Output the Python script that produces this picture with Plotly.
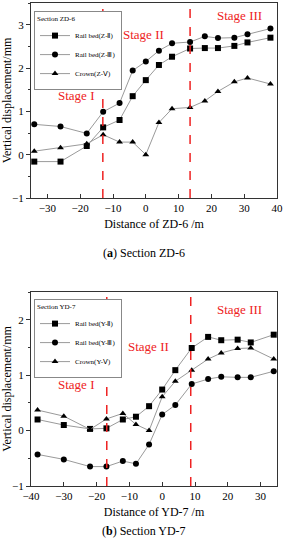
import plotly.graph_objects as go

# ---- Section ZD-6 ----
zd_x = [-34, -26, -18, -13, -8, -4, 0, 4, 8, 13.5, 18, 22, 27, 31, 38]
zd_rail2 = [-0.16, -0.16, 0.2, 0.63, 0.80, 1.35, 1.72, 2.07, 2.26, 2.45, 2.46, 2.46, 2.51, 2.59, 2.70]
zd_rail3 = [0.70, 0.65, 0.49, 0.99, 1.19, 1.94, 2.15, 2.40, 2.57, 2.60, 2.73, 2.69, 2.70, 2.78, 2.91]
zd_crown = [0.08, 0.16, 0.25, 0.46, 0.29, 0.29, 0.0, 0.74, 1.06, 1.09, 1.24, 1.46, 1.68, 1.77, 1.63]
zd_stage_lines = [-13.1, 13.5]

# ---- Section YD-7 ----
yd_x = [-38, -30, -22, -17, -12, -8, -4, 0, 4, 9, 14, 18, 23, 27, 34]
yd_rail2 = [0.20, 0.10, 0.03, 0.04, 0.20, 0.25, 0.44, 0.74, 1.09, 1.49, 1.69, 1.63, 1.64, 1.59, 1.73]
yd_rail3 = [-0.43, -0.52, -0.65, -0.65, -0.55, -0.60, -0.25, 0.29, 0.46, 0.84, 0.93, 0.97, 0.96, 0.96, 1.07]
yd_crown = [0.37, 0.26, 0.02, 0.21, 0.31, 0.11, 0.0, 0.61, 0.89, 1.09, 1.29, 1.40, 1.48, 1.49, 1.29]
yd_stage_lines = [-16.9, 8.7]

stage_names = ["Stage I", "Stage II", "Stage III"]
zd_stage_pos = [(-21.2, 1.36), (-0.8, 2.77), (28.7, 3.22)]
yd_stage_pos = [(-26.4, 0.83), (-4.2, 1.52), (23.5, 2.19)]

zd_names = ["Rail bed(Z-Ⅱ)", "Rail bed(Z-Ⅲ)", "Crown(Z-Ⅴ)"]
yd_names = ["Rail bed(Y-Ⅱ)", "Rail bed(Y-Ⅲ)", "Crown(Y-Ⅴ)"]
symbols = ["square", "circle", "triangle-up"]

FONT = "Liberation Serif, Times New Roman, serif"
LINEC = "#9a9a9a"
RED = "#ee2222"

fig = go.Figure()

for name, ys, sym in zip(zd_names, [zd_rail2, zd_rail3, zd_crown], symbols):
    fig.add_trace(go.Scatter(x=zd_x, y=ys, mode="lines+markers", name=name,
                             line=dict(color=LINEC, width=1),
                             marker=dict(symbol=sym, color="black", size=6),
                             xaxis="x", yaxis="y", legend="legend"))
for name, ys, sym in zip(yd_names, [yd_rail2, yd_rail3, yd_crown], symbols):
    fig.add_trace(go.Scatter(x=yd_x, y=ys, mode="lines+markers", name=name,
                             line=dict(color=LINEC, width=1),
                             marker=dict(symbol=sym, color="black", size=6),
                             xaxis="x2", yaxis="y2", legend="legend2"))

shapes = []
for xv in zd_stage_lines:
    shapes.append(dict(type="line", xref="x", yref="y domain", x0=xv, x1=xv, y0=0, y1=1,
                       line=dict(color=RED, width=1.5, dash="dash")))
for xv in yd_stage_lines:
    shapes.append(dict(type="line", xref="x2", yref="y2 domain", x0=xv, x1=xv, y0=0, y1=1,
                       line=dict(color=RED, width=1.5, dash="dash")))

annotations = []
for t, (ax, ay) in zip(stage_names, zd_stage_pos):
    annotations.append(dict(text=t, x=ax, y=ay, xref="x", yref="y", showarrow=False,
                            font=dict(family=FONT, size=13, color=RED)))
for t, (ax, ay) in zip(stage_names, yd_stage_pos):
    annotations.append(dict(text=t, x=ax, y=ay, xref="x2", yref="y2", showarrow=False,
                            font=dict(family=FONT, size=13, color=RED)))
annotations.append(dict(text="(<b>a</b>) Section ZD-6", x=0.5, y=(550 - 253) / 550, xref="paper", yref="paper",
                        showarrow=False, font=dict(family=FONT, size=12, color="black")))
annotations.append(dict(text="(<b>b</b>) Section YD-7", x=0.5, y=(550 - 540) / 550, xref="paper", yref="paper",
                        showarrow=False, font=dict(family=FONT, size=12, color="black")))

xdom = [31 / 287, 277 / 287]
common_x = dict(showline=True, mirror=True, linecolor="#333", linewidth=1, ticks="inside", ticklen=4,
                tickcolor="#333", showgrid=False, zeroline=False, automargin=False,
                tickfont=dict(family=FONT, size=11, color="black"),
                title_font=dict(family=FONT, size=12, color="black"), title_standoff=6)
common_y = dict(showline=True, mirror=True, linecolor="#333", linewidth=1, ticks="outside", ticklen=4,
                tickcolor="#333", showgrid=False, zeroline=False, automargin=False,
                minor=dict(ticks="outside", ticklen=2, dtick=0.5, tickcolor="#333"),
                tickfont=dict(family=FONT, size=11, color="black"),
                title_font=dict(family=FONT, size=12, color="black"), title_standoff=4)

fig.update_layout(
    width=287, height=550, margin=dict(l=0, r=0, t=0, b=0, autoexpand=False),
    paper_bgcolor="white", plot_bgcolor="white",
    font=dict(family=FONT, color="black"),
    xaxis=dict(domain=xdom, range=[-35, 40], anchor="y", title_text="Distance of ZD-6 /m",
               tickvals=[-30, -20, -10, 0, 10, 20, 30, 40], **common_x),
    yaxis=dict(domain=[(550 - 198) / 550, (550 - 3) / 550], range=[-1, 3.5], anchor="x",
               title_text="Vertical displacement/mm", tickvals=[-1, 0, 1, 2, 3], **common_y),
    xaxis2=dict(domain=xdom, range=[-40, 35], anchor="y2", title_text="Distance of YD-7 /m",
                tickvals=[-40, -30, -20, -10, 0, 10, 20, 30], **common_x),
    yaxis2=dict(domain=[(550 - 486) / 550, (550 - 292) / 550], range=[-1, 2.5], anchor="x2",
                title_text="Vertical displacement/mm", tickvals=[-1, 0, 1, 2], **common_y),
    legend=dict(x=34 / 287, y=(550 - 11) / 550, xanchor="left", yanchor="top",
                bordercolor="#888", borderwidth=1, bgcolor="white",
                title=dict(text="Section ZD-6", font=dict(family=FONT, size=7)),
                font=dict(family=FONT, size=7), itemwidth=30, tracegroupgap=0),
    legend2=dict(x=34 / 287, y=(550 - 299) / 550, xanchor="left", yanchor="top",
                 bordercolor="#888", borderwidth=1, bgcolor="white",
                 title=dict(text="Section YD-7", font=dict(family=FONT, size=7)),
                 font=dict(family=FONT, size=7), itemwidth=30, tracegroupgap=0),
    shapes=shapes, annotations=annotations, showlegend=True,
)

fig.write_html("out.html", config={"displayModeBar": False},
               post_script="document.body.style.margin='0';document.body.style.padding='0';")
